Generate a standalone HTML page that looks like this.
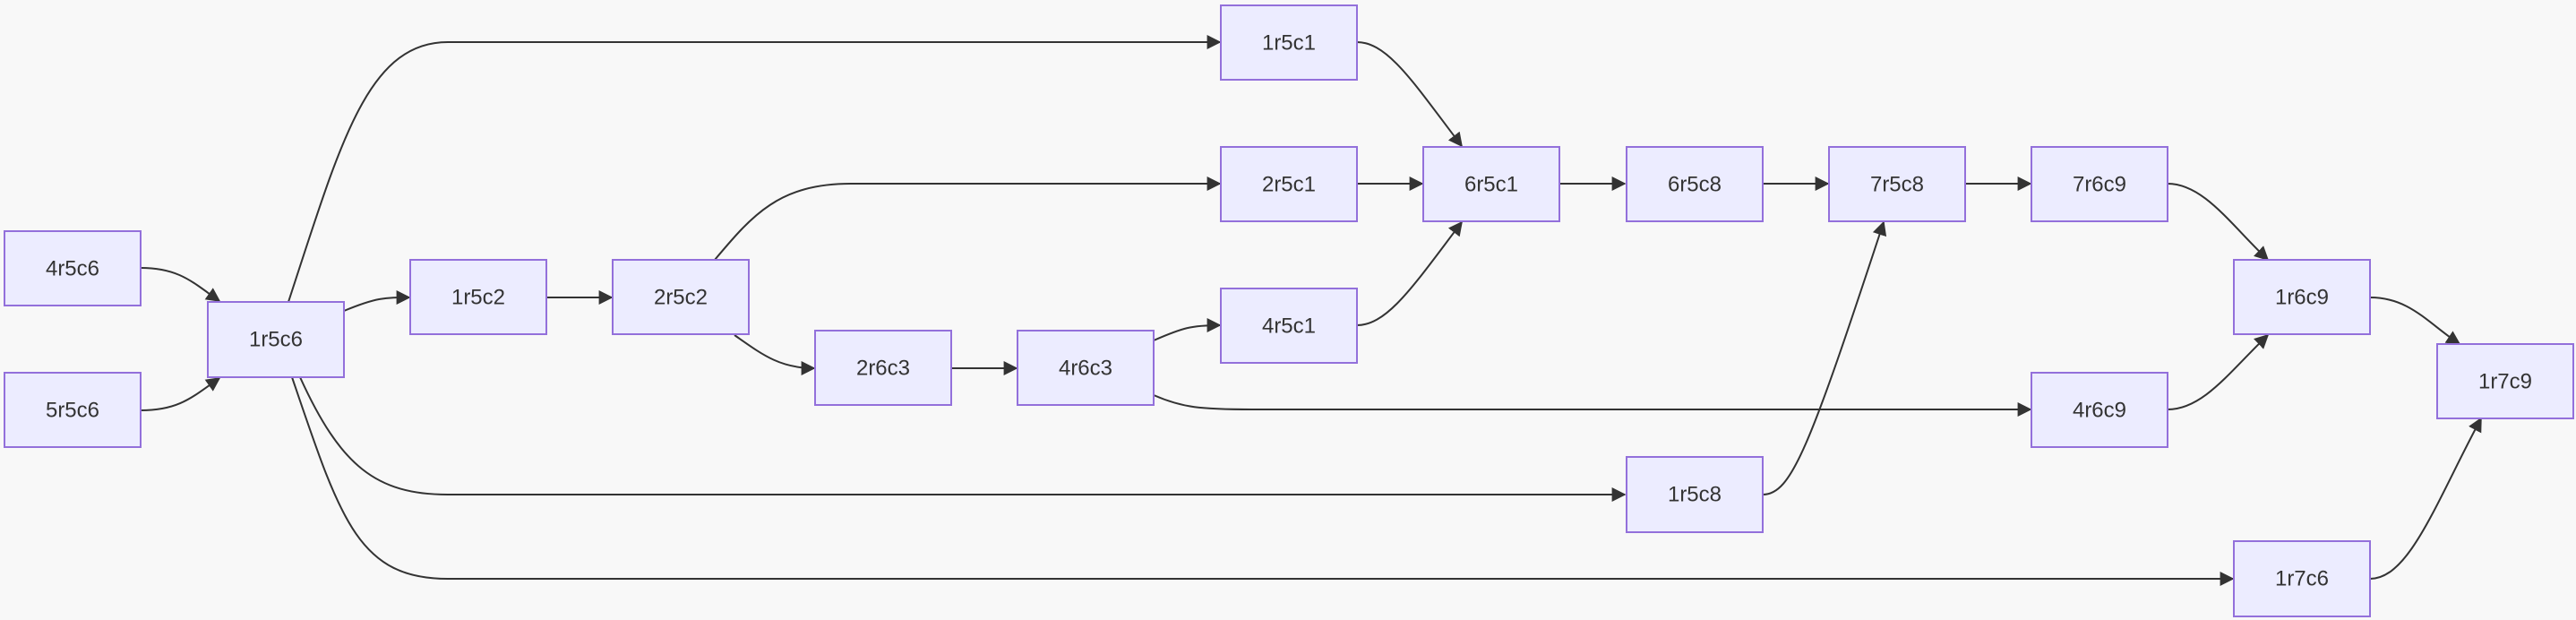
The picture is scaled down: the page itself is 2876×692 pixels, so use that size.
<!DOCTYPE html>
<html><head><meta charset="utf-8"><style>
html,body{margin:0;padding:0;background:#f8f8f8;}
svg{display:block;}
text{font-family:"Liberation Sans",sans-serif;font-size:24px;fill:#333;}
</style></head><body>
<svg width="2876" height="692" viewBox="0 0 2876 692" xmlns="http://www.w3.org/2000/svg">
<defs><marker id="a" viewBox="0 0 10 10" refX="9" refY="5" markerWidth="8" markerHeight="8" markerUnits="userSpaceOnUse" orient="auto"><path d="M0,0 L10,5 L0,10 z" fill="#333"/></marker>
<marker id="b" viewBox="0 0 10 10" refX="9" refY="5" markerWidth="16" markerHeight="16" markerUnits="userSpaceOnUse" orient="auto"><path d="M0,0 L10,5 L0,10 z" fill="#333"/></marker></defs>
<g fill="none" stroke="#333" stroke-width="2" marker-end="url(#b)">
<path d="M157,299 C200,299 215,315 245,336"/>
<path d="M157,458 C200,458 215,443 245,422"/>
<path d="M322,337 C380,160 410,47 500,47 L1362,47"/>
<path d="M384,347 C420,332 430,332 457,332"/>
<path d="M335,421 C380,520 420,552 500,552 L1814,552"/>
<path d="M326,421 C380,580 400,646 500,646 L2493,646"/>
<path d="M610,332 L683,332"/>
<path d="M798,290 C840,240 870,205 950,205 L1362,205"/>
<path d="M820,374 C850,395 870,411 909,411"/>
<path d="M1062,411 L1135,411"/>
<path d="M1288,380 C1320,366 1330,363 1362,363"/>
<path d="M1288,441 C1320,455 1340,457 1400,457 L2267,457"/>
<path d="M1515,47 C1550,47 1580,95 1632,163"/>
<path d="M1515,205 L1588,205"/>
<path d="M1515,363 C1550,363 1580,316 1632,248"/>
<path d="M1741,205 L1814,205"/>
<path d="M1968,205 L2041,205"/>
<path d="M2194,205 L2267,205"/>
<path d="M1968,552 C2000,552 2020,500 2103,248"/>
<path d="M2420,205 C2460,205 2490,250 2532,290"/>
<path d="M2420,457 C2460,457 2490,414 2532,374"/>
<path d="M2646,332 C2690,332 2710,360 2746,384"/>
<path d="M2646,646 C2690,646 2720,560 2770,467"/>
</g>
<g fill="#ECECFF" stroke="#9370DB" stroke-width="2">
<rect x="5" y="258" width="152" height="83"/>
<rect x="5" y="416" width="152" height="83"/>
<rect x="232" y="337" width="152" height="84"/>
<rect x="458" y="290" width="152" height="83"/>
<rect x="684" y="290" width="152" height="83"/>
<rect x="910" y="369" width="152" height="83"/>
<rect x="1136" y="369" width="152" height="83"/>
<rect x="1363" y="6" width="152" height="83"/>
<rect x="1363" y="164" width="152" height="83"/>
<rect x="1363" y="322" width="152" height="83"/>
<rect x="1589" y="164" width="152" height="83"/>
<rect x="1816" y="164" width="152" height="83"/>
<rect x="1816" y="510" width="152" height="84"/>
<rect x="2042" y="164" width="152" height="83"/>
<rect x="2268" y="164" width="152" height="83"/>
<rect x="2268" y="416" width="152" height="83"/>
<rect x="2494" y="290" width="152" height="83"/>
<rect x="2494" y="604" width="152" height="84"/>
<rect x="2721" y="384" width="152" height="83"/>
</g>
<g text-anchor="middle" dominant-baseline="central">
<text x="81" y="300">4r5c6</text>
<text x="81" y="458">5r5c6</text>
<text x="308" y="379">1r5c6</text>
<text x="534" y="332">1r5c2</text>
<text x="760" y="332">2r5c2</text>
<text x="986" y="411">2r6c3</text>
<text x="1212" y="411">4r6c3</text>
<text x="1439" y="48">1r5c1</text>
<text x="1439" y="206">2r5c1</text>
<text x="1439" y="364">4r5c1</text>
<text x="1665" y="206">6r5c1</text>
<text x="1892" y="206">6r5c8</text>
<text x="1892" y="552">1r5c8</text>
<text x="2118" y="206">7r5c8</text>
<text x="2344" y="206">7r6c9</text>
<text x="2344" y="458">4r6c9</text>
<text x="2570" y="332">1r6c9</text>
<text x="2570" y="646">1r7c6</text>
<text x="2797" y="426">1r7c9</text>
</g>
</svg>
</body></html>
